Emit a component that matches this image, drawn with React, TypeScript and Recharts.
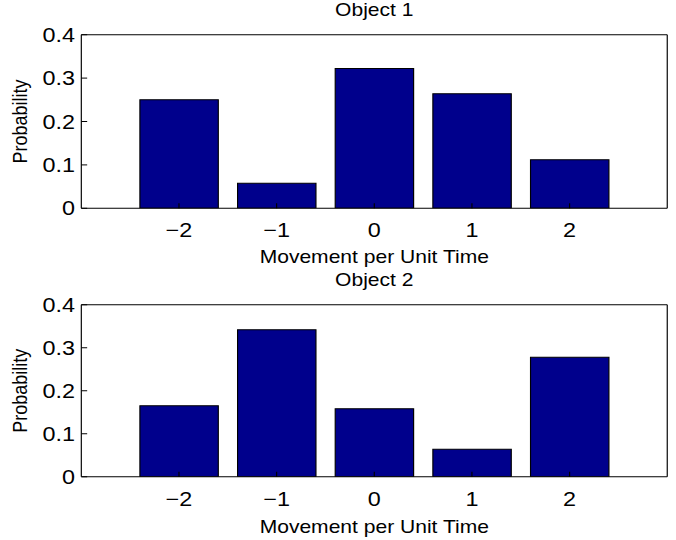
import React from 'react';
import { BarChart, Bar, XAxis, YAxis } from 'recharts';

// movement categories shared by both panels
const moves = [-2, -1, 0, 1, 2];
const probTicks = [0, 0.1, 0.2, 0.3, 0.4];

const object1 = [0.25, 0.058, 0.322, 0.264, 0.112];
const object2 = [0.165, 0.342, 0.158, 0.064, 0.278];

// the source figure is stretched sideways, so draw narrow and scale the whole thing
const STRETCH = 1.17;
const W = 578;
const H = 270;

const fmtMove = (v: number) => (v < 0 ? '\u2212' + Math.abs(v) : String(v));

interface PanelProps {
  title: string;
  values: number[];
  bottom: number;
  labelOffset: number;
}

const Panel: React.FC<PanelProps> = ({ title, values, bottom, labelOffset }) => {
  const data = moves.map((m, i) => ({ move: m, prob: values[i] }));

  return (
    <BarChart width={W} height={H} data={data} margin={{ top: 33.7, right: 6.7, bottom, left: 9.5 }}>
      <XAxis
        xAxisId="b"
        type="number"
        dataKey="move"
        domain={[-3, 3]}
        allowDataOverflow
        ticks={moves}
        tickFormatter={fmtMove}
        height={60}
        tickSize={-5}
        tickMargin={19.8}
        tick={{ fontSize: 20, fill: '#000' }}
        axisLine={{ stroke: '#000' }}
        tickLine={{ stroke: '#000' }}
        label={{ value: 'Movement per Unit Time', position: 'insideBottom', offset: labelOffset, fontSize: 18, fill: '#000' }}
      />
      {/* top frame edge with inward ticks, carries the panel title */}
      <XAxis
        xAxisId="t"
        orientation="top"
        type="number"
        dataKey="move"
        domain={[-3, 3]}
        allowDataOverflow
        ticks={moves}
        height={1}
        tick={false}
        tickSize={-5}
        axisLine={{ stroke: '#000' }}
        tickLine={{ stroke: '#000' }}
        label={{ value: title, position: 'top', offset: 18.2, fontSize: 18, fill: '#000' }}
      />
      <YAxis
        yAxisId="l"
        type="number"
        domain={[0, 0.4]}
        allowDataOverflow
        ticks={probTicks}
        width={60}
        tickSize={-5}
        tickMargin={10.4}
        tick={{ fontSize: 20, fill: '#000' }}
        axisLine={{ stroke: '#000' }}
        tickLine={{ stroke: '#000' }}
        label={{ value: 'Probability', angle: -90, position: 'insideLeft', offset: 7.6, fontSize: 18, fill: '#000', style: { textAnchor: 'middle' } }}
      />
      {/* right frame edge */}
      <YAxis
        yAxisId="r"
        orientation="right"
        type="number"
        domain={[0, 0.4]}
        allowDataOverflow
        ticks={probTicks}
        width={1}
        tick={false}
        tickSize={-5}
        axisLine={{ stroke: '#000' }}
        tickLine={{ stroke: '#000' }}
      />
      <Bar xAxisId="b" yAxisId="l" dataKey="prob" fill="#00008c" stroke="#000" strokeWidth={1} isAnimationActive={false} />
    </BarChart>
  );
};

export default function App() {
  return (
    <div
      style={{
        position: 'absolute',
        top: 0,
        left: 0,
        width: W,
        height: 540,
        background: '#fff',
        fontFamily: '"Liberation Sans", Arial, Helvetica, sans-serif',
        transform: `scaleX(${STRETCH})`,
        transformOrigin: '0 0',
      }}
    >
      <Panel title="Object 1" values={object1} bottom={1.7} labelOffset={5} />
      <Panel title="Object 2" values={object2} bottom={3.3} labelOffset={4} />
    </div>
  );
}
